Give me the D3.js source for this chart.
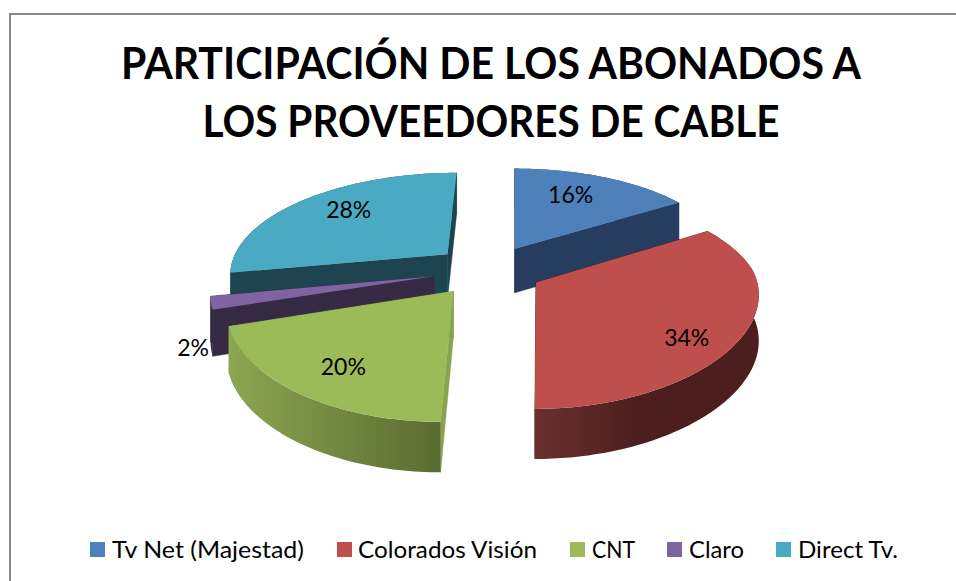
<!DOCTYPE html>
<html><head><meta charset="utf-8">
<script src="https://cdn.jsdelivr.net/npm/d3@7/dist/d3.min.js"></script>
<style>html,body{margin:0;background:#fff}svg{display:block}</style></head>
<body><div id="c"></div>
<script>
const titleLines = ["PARTICIPACIÓN DE LOS ABONADOS A", "LOS PROVEEDORES DE CABLE"];
const categories = ["Tv Net (Majestad)", "Colorados Visión", "CNT", "Claro", "Direct Tv."];
const shares = [16, 34, 20, 2, 28];
const topColors = ["#4e80bb", "#bf4f4c", "#9bbb59", "#8064a2", "#4aaac4"];
const edgeColors = ["#263d5f", "#4d1f1e", "#8aa34f", "#352944", "#1d444f"];
const rimStart = ["#263d5f", "#6a2f2d", "#8ca651", "#352944", "#1d444f"];
const rimEnd = ["#263d5f", "#4c1f1e", "#5a6b31", "#352944", "#1d444f"];
const paintOrder = [4, 0, 3, 1, 2];
const legendX = [90, 337, 570, 667, 776];
const legendTextGap = [22, 21, 22, 22, 22];
const legendW = [192, 179, 43, 55, 100];
const labelR = [.7, .75, .8, 1.1, .65];
const labelNudge = [[-9, -2], [-1, 15], [12, -3], [5, 42], [-3, -7]];

const W = 956, H = 581;
const svg = d3.select("#c").append("svg").attr("width", W).attr("height", H);
const defs = svg.append("defs");
const font = "Lato, Carlito, Calibri, sans-serif";

svg.append("path").attr("d", `M10 ${H} V14 H${W}`).attr("fill", "none").attr("stroke", "#878787").attr("stroke-width", 2);

svg.selectAll("text.title").data(titleLines).join("text").attr("class", "title")
  .attr("x", 491).attr("y", (d, i) => 79 + i * 58)
  .attr("text-anchor", "middle").attr("font-family", font).attr("font-weight", 700)
  .attr("font-size", 43).attr("fill", "#000")
  .attr("textLength", (d, i) => i ? 577 : 740).attr("lengthAdjust", "spacingAndGlyphs")
  .text(d => d);

// perspective projection of the exploded pie
const cx = 488, cy = 270, x0 = 545, R = 218, explode = 55, tiltK = 0.46, perspY = 0.17,
      perspXBack = 0.16, perspXFront = 0.12, backLean = 0.018, depth = 45;
const project = (X, Y, Z) => {
  const wy = 1 + perspY * Y / R, wx = 1 + (Y > 0 ? perspXBack : perspXFront) * Y / R;
  return [x0 + (cx - x0 + X) / wx - backLean * Math.max(Y, 0), cy - tiltK * Y / wy - Z / Math.sqrt(wy)];
};
const pie = d3.pie().sort(null).value(d => d)(shares);
const line = d3.line();

const sliceGeom = a => {
  const mid = (a.startAngle + a.endAngle) / 2;
  const ox = explode * Math.sin(mid), oy = explode * Math.cos(mid);
  const steps = d3.range(0, 61).map(i => a.startAngle + (a.endAngle - a.startAngle) * i / 60);
  const rim = z => steps.map(t => project(ox + R * Math.sin(t), oy + R * Math.cos(t), z));
  const apex = z => project(ox, oy, z);
  return {mid, ox, oy, rim, apex};
};

const g = svg.append("g");
paintOrder.forEach(i => {
  const a = pie[i], s = sliceGeom(a);
  const topRim = s.rim(0), botRim = s.rim(-depth);
  const gid = "rim" + i;
  const lg = defs.append("linearGradient").attr("id", gid).attr("gradientUnits", "userSpaceOnUse");
  const xs = topRim.map(p => p[0]);
  const frontLeft = i === 2;
  lg.attr("x1", d3.min(xs)).attr("x2", d3.max(xs)).attr("y1", 0).attr("y2", 0);
  lg.append("stop").attr("offset", 0).attr("stop-color", rimStart[i]);
  lg.append("stop").attr("offset", frontLeft ? 1 : .45).attr("stop-color", rimEnd[i]);
  const sl = g.append("g").attr("class", "slice");
  [0, topRim.length - 1].forEach(k => {
    sl.append("path").attr("d", line([s.apex(0), topRim[k], botRim[k], s.apex(-depth)]) + "Z")
      .attr("fill", edgeColors[i]).attr("stroke", edgeColors[i]).attr("stroke-width", .5);
  });
  sl.append("path").attr("d", line(topRim.concat(botRim.slice().reverse())) + "Z")
    .attr("fill", `url(#${gid})`);
  sl.append("path").attr("d", line([s.apex(0)].concat(topRim)) + "Z").attr("fill", topColors[i]);
});

svg.selectAll("text.val").data(pie).join("text").attr("class", "val")
  .attr("font-family", font).attr("font-size", 23).attr("fill", "#000").attr("text-anchor", "middle")
  .each(function (a, i) {
    const s = sliceGeom(a);
    const p = project(s.ox + R * labelR[i] * Math.sin(s.mid), s.oy + R * labelR[i] * Math.cos(s.mid), 0);
    d3.select(this).attr("x", p[0] + labelNudge[i][0]).attr("y", p[1] + 8 + labelNudge[i][1]);
  })
  .text(a => a.data + "%");

const lg = svg.selectAll("g.leg").data(categories).join("g").attr("class", "leg");
lg.append("rect").attr("x", (d, i) => legendX[i]).attr("y", 542).attr("width", 15).attr("height", 15)
  .attr("fill", (d, i) => topColors[i]);
lg.append("text").attr("x", (d, i) => legendX[i] + legendTextGap[i]).attr("y", 558)
  .attr("font-family", font).attr("font-size", 23).attr("fill", "#000")
  .attr("textLength", (d, i) => legendW[i]).attr("lengthAdjust", "spacingAndGlyphs")
  .text(d => d);
</script></body></html>
